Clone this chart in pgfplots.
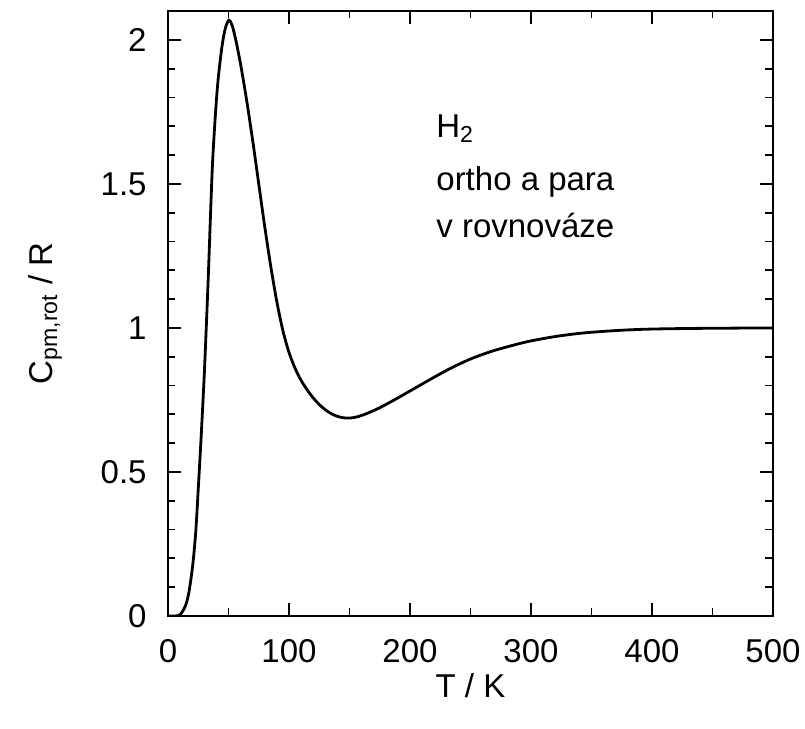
\documentclass[border=0pt]{standalone}
\usepackage{pgfplots}
\pgfplotsset{compat=1.18}
\usepackage{fontspec}
\setmainfont{Liberation Sans}
\begin{document}
\fontsize{16.5}{20}\selectfont
\begin{tikzpicture}
\begin{axis}[
  scale only axis,
  width=302.5pt, height=302.5pt,
  at={(0,0)}, anchor=south west,
  xmin=0, xmax=500, ymin=0, ymax=2.1,
  xtick={0,100,...,500},
  ytick={0,0.5,1,1.5,2},
  minor x tick num=1,
  minor y tick num=4,
  major tick length=6.5pt,
  minor tick length=3.75pt,
  tick style={line width=0.9pt, black},
  axis line style={line width=1.3pt},
  tick align=inside,
  /pgf/number format/assume math mode=true,
  ticklabel style={font=\fontsize{16.5}{20}\selectfont},
  xticklabel style={yshift=-6pt},
  yticklabel style={xshift=-5pt},
  xlabel={T / K},
  ylabel={C\textsubscript{pm,rot} / R},
  xlabel style={at={(axis description cs:0.5,-0.134)}, anchor=base, font=\fontsize{16.5}{20}\selectfont},
  ylabel style={at={(axis description cs:-0.1917,0.5)}, anchor=base, font=\fontsize{16.5}{20}\selectfont},
  clip=true,
]
\addplot[line width=1.4pt, black, smooth] coordinates {
(0,0) (6,0) (8.5,0.001) (10.5,0.007) (12.7,0.021) (15,0.042) (17.4,0.085)
(20.4,0.175) (22.9,0.29) (25,0.44) (27.5,0.63) (30,0.84) (32,1.04)
(33.5,1.2) (35.2,1.4) (36.9,1.58) (39.4,1.754) (41.6,1.87) (44.9,1.985)
(47.6,2.043) (50.4,2.068) (53,2.05) (56,2.0) (60,1.915) (65,1.79)
(70,1.65) (75,1.50) (80,1.35) (85,1.212) (90,1.09) (95,0.99)
(100,0.915) (105,0.86) (110,0.818) (115,0.785) (120,0.757) (125,0.734)
(130,0.716) (135,0.702) (140,0.693) (145,0.688) (150,0.687) (155,0.69)
(160,0.696) (165,0.704) (170,0.713) (175,0.723) (180,0.734) (190,0.757)
(200,0.781) (210,0.805) (220,0.829) (230,0.852) (240,0.873) (250,0.892)
(260,0.908) (270,0.922) (280,0.934) (290,0.945) (300,0.955) (320,0.97)
(340,0.981) (360,0.988) (380,0.993) (400,0.996) (430,0.998) (460,0.999)
(500,1.0)
};
\node[anchor=base west, inner sep=0pt] at (axis cs:221.5,1.661) {H\textsubscript{2}};
\node[anchor=base west, inner sep=0pt] at (axis cs:221.5,1.4766) {ortho a para};
\node[anchor=base west, inner sep=0pt] at (axis cs:221.5,1.3148) {v rovnováze};
\end{axis}
\pgfresetboundingbox
\path[use as bounding box] (-84pt,-56.5pt) rectangle (318.5pt,308pt);
\end{tikzpicture}
\end{document}
